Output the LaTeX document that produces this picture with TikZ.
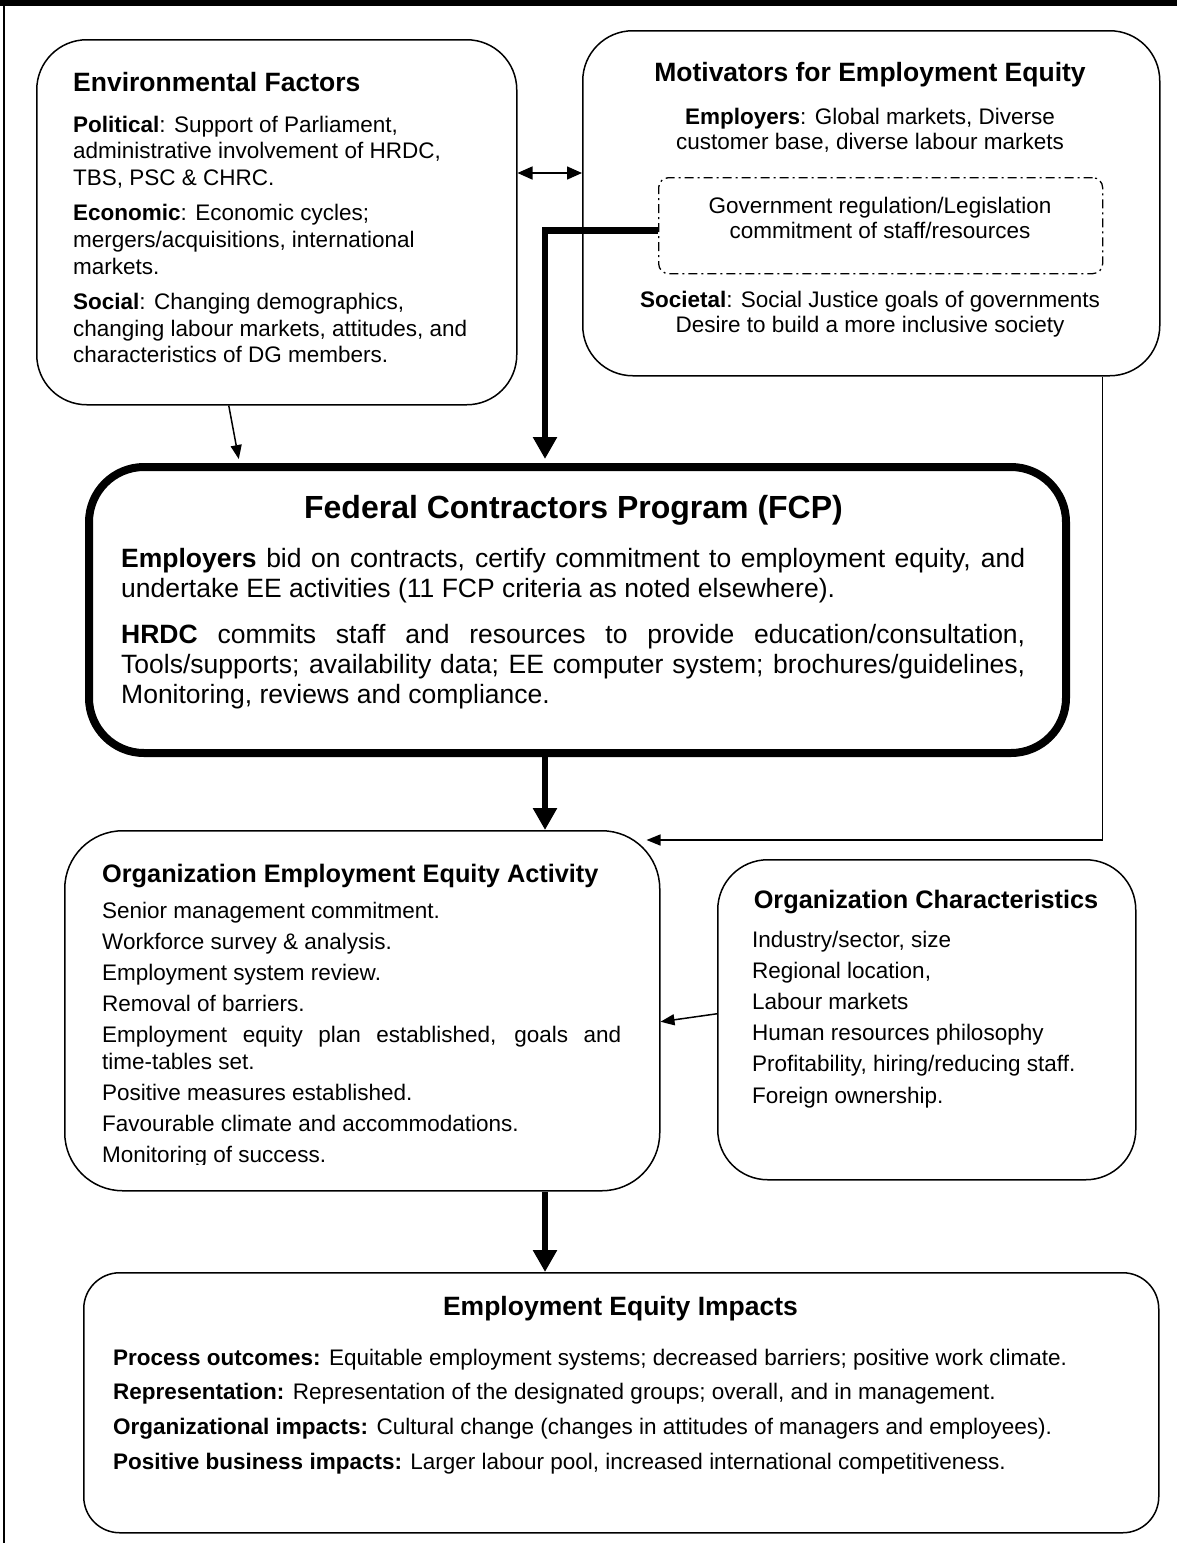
\documentclass[tikz,border=0pt]{standalone}
\usepackage{fontspec}
\setmainfont{Liberation Sans}
\usetikzlibrary{arrows.meta}

\begin{document}
\begin{tikzpicture}[x=1pt,y=-1pt,
	box/.style={draw, line width=1.5pt, rounded corners=50pt, inner sep=0pt, anchor=north west},
	hd/.style={font=\fontsize{26.5}{30}\selectfont\bfseries, inner sep=0pt, anchor=base},
	hdsmall/.style={font=\fontsize{25.3}{30}\selectfont\bfseries, inner sep=0pt, anchor=base},
	txt/.style={font=\fontsize{22.5}{26.8}\selectfont, inner sep=0pt, align=left, anchor=north west},
	smallarrow/.style={line width=1.5pt, -{Triangle[width=11pt,length=14pt]}},
	duoarrow/.style={line width=1.5pt, {Triangle[width=13pt,length=15pt]}-{Triangle[width=13pt,length=15pt]}},
	bigarrow/.style={line width=6.5pt, -{Triangle[width=23pt,length=22pt]}},
	dashdot/.style={draw, line width=1.3pt, dash pattern=on 9pt off 4pt on 2pt off 4pt, rounded corners=10pt, inner sep=0pt, anchor=north west}]
	\useasboundingbox (0,0) rectangle (1177,1543);

	% frame
	\draw[line width=6pt] (0,3) -- (1177,3);
	\draw[line width=1.5pt] (4,0) -- (4,1543);

	% environmental factors
	\node[box, minimum width=480pt, minimum height=365pt] (env) at (36,39) {};
	\node[hd, anchor=base west] (envhd) at (73,91) {Environmental Factors};
	\node[txt] (envtxt) at (73,115.6) {\textbf{Political}: Support of Parliament,\\
		administrative involvement of HRDC,\\
		TBS, PSC \& CHRC.\\[8.2pt]
		\textbf{Economic}: Economic cycles;\\
		mergers/acquisitions, international\\
		markets.\\[8.2pt]
		\textbf{Social}: Changing demographics,\\
		changing labour markets, attitudes, and\\
		characteristics of DG members.};

	% motivators
	\node[box, minimum width=577pt, minimum height=345pt] (mot) at (582,30) {};
	\node[hd] (mothd) at (870,81) {Motivators for Employment Equity};
	\node[txt, align=center, anchor=north, font=\fontsize{22.5}{25}\selectfont] (motemp) at (870,107.6)
		{\textbf{Employers}: Global markets, Diverse\\customer base, diverse labour markets};
	\node[dashdot, minimum width=444pt, minimum height=96pt] (gov) at (658,177) {};
	\node[txt, align=center, anchor=north, font=\fontsize{22.5}{25}\selectfont] (govtxt) at (880,196.6)
		{Government regulation/Legislation\\commitment of staff/resources};
	\node[txt, align=center, anchor=north, font=\fontsize{22.5}{25}\selectfont] (motsoc) at (870,290.6)
		{\textbf{Societal}: Social Justice goals of governments\\Desire to build a more inclusive society};

	% federal contractors program
	\node[box, line width=8pt, rounded corners=55pt, minimum width=977pt, minimum height=286pt] (fcp) at (85,463) {};
	\node[font=\fontsize{32}{36}\selectfont\bfseries, inner sep=0pt, anchor=base] (fcphd) at (573.5,518) {Federal Contractors Program (FCP)};
	\node[txt, font=\fontsize{26.5}{30}\selectfont] (fcptxt) at (121,547.7)
		{\makebox[904pt][s]{\textbf{Employers} bid on contracts, certify commitment to employment equity, and}\\
		undertake EE activities (11 FCP criteria as noted elsewhere).\\[16pt]
		\makebox[904pt][s]{\textbf{HRDC} commits staff and resources to provide education/consultation,}\\
		\makebox[904pt][s]{Tools/supports; availability data; EE computer system; brochures/guidelines,}\\
		Monitoring, reviews and compliance.};

	% organization activity
	\node[box, rounded corners=58pt, minimum width=595pt, minimum height=360pt] (act) at (64,830) {};
	\node[hdsmall, anchor=base west] (acthd) at (102,882) {Organization Employment Equity Activity};
	\begin{scope}
		\clip (64,830) rectangle (659,1164);
		\node[txt, font=\fontsize{22.5}{27}\selectfont] (acttxt) at (102,901.6)
			{Senior management commitment.\\[4pt]
			Workforce survey \& analysis.\\[4pt]
			Employment system review.\\[4pt]
			Removal of barriers.\\[4pt]
			\makebox[519pt][s]{Employment equity plan established, goals and}\\
			time-tables set.\\[4pt]
			Positive measures established.\\[4pt]
			Favourable climate and accommodations.\\[4pt]
			Monitoring of success.};
	\end{scope}

	% organization characteristics
	\node[box, minimum width=418pt, minimum height=320pt] (char) at (717,859) {};
	\node[hdsmall] (charhd) at (926,908) {Organization Characteristics};
	\node[txt, font=\fontsize{22.5}{31.2}\selectfont] (chartxt) at (752,930.6)
		{Industry/sector, size\\
		Regional location,\\
		Labour markets\\
		Human resources philosophy\\
		Profitability, hiring/reducing staff.\\
		Foreign ownership.};

	% impacts
	\node[box, rounded corners=36pt, minimum width=1075pt, minimum height=260pt] (imp) at (83,1272) {};
	\node[hd] (imphd) at (620.5,1315) {Employment Equity Impacts};
	\node[txt, font=\fontsize{22.5}{34.8}\selectfont] (imptxt) at (113,1348.6)
		{\textbf{Process outcomes:} Equitable employment systems; decreased barriers; positive work climate.\\
		\textbf{Representation:} Representation of the designated groups; overall, and in management.\\
		\textbf{Organizational impacts:} Cultural change (changes in attitudes of managers and employees).\\
		\textbf{Positive business impacts:} Larger labour pool, increased international competitiveness.};

	% connectors
	\coordinate (spine) at (545,0);
	\draw[duoarrow] (env.east |- 0,173) -- (mot.west |- 0,173);
	\draw[smallarrow, shorten >=4pt] ([xshift=-48pt]env.south) -- ([xshift=-338pt]fcp.north);
	\draw[bigarrow, shorten >=4pt] ([yshift=-5pt]gov.west) -| (spine |- fcp.north);
	\draw[bigarrow] (spine |- fcp.south) -- (spine |- act.north);
	\draw[bigarrow] (spine |- act.south) -- (spine |- imp.north);
	\draw[smallarrow] ([xshift=-58pt]mot.south east) |- ([xshift=-14pt,yshift=-10pt]act.north east);
	\draw[smallarrow] ([yshift=6pt]char.west) -- ([yshift=-11pt]act.east);
\end{tikzpicture}
\end{document}
